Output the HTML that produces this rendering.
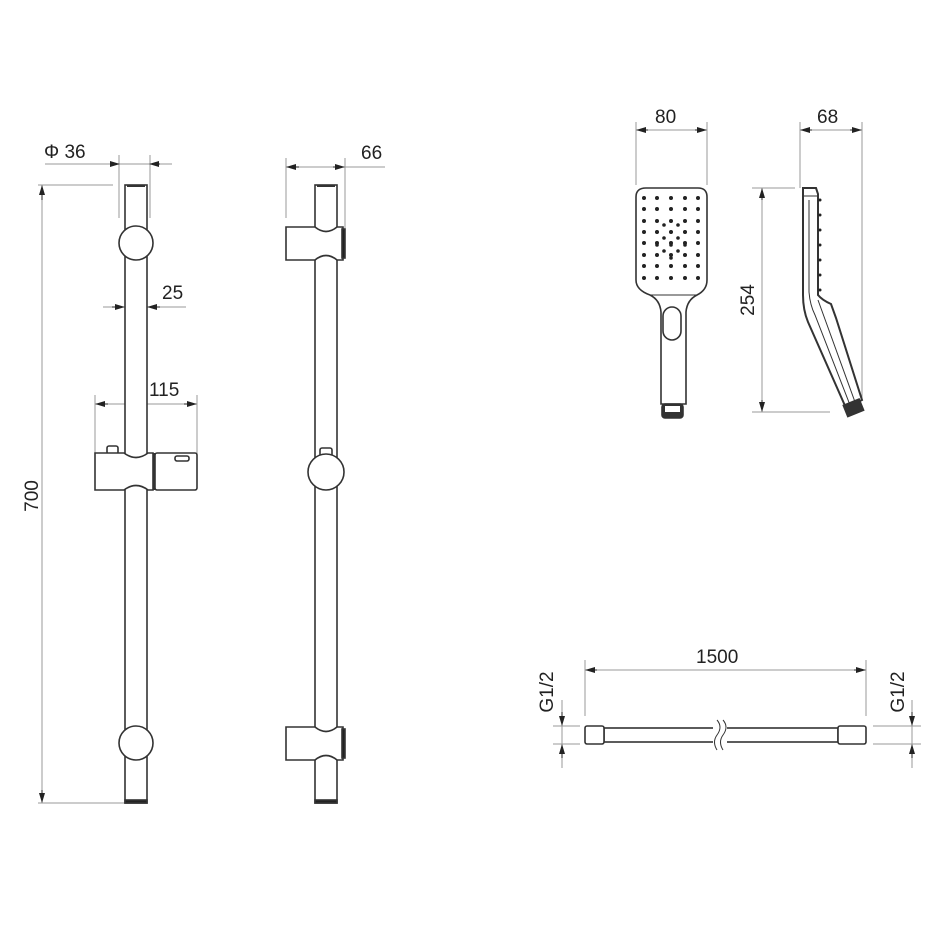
<!DOCTYPE html>
<html><head><style>body{margin:0;background:#fff}svg{display:block}text{font-family:"Liberation Sans",sans-serif;fill:#222}</style></head><body>
<svg width="950" height="950" viewBox="0 0 950 950" xmlns="http://www.w3.org/2000/svg">
<defs><marker id="a" markerWidth="10" markerHeight="6" refX="9" refY="3" orient="auto" markerUnits="userSpaceOnUse"><path d="M0,0 L10,3 L0,6Z" fill="#222"/></marker></defs>
<g stroke="#999" stroke-width="1" fill="none">
<line x1="45" y1="164" x2="172" y2="164"/><line x1="119" y1="155" x2="119" y2="218"/><line x1="150" y1="155" x2="150" y2="218"/>
<line x1="38" y1="185" x2="113" y2="185"/><line x1="38" y1="803" x2="125" y2="803"/><line x1="42" y1="185" x2="42" y2="803"/>
<line x1="103" y1="307" x2="186" y2="307"/>
<line x1="95" y1="404" x2="197" y2="404"/><line x1="95" y1="395" x2="95" y2="460"/><line x1="197" y1="395" x2="197" y2="460"/>
<line x1="286" y1="167" x2="385" y2="167"/><line x1="286" y1="158" x2="286" y2="218"/><line x1="345" y1="158" x2="345" y2="228"/>
<line x1="636" y1="130" x2="707" y2="130"/><line x1="636" y1="122" x2="636" y2="185"/><line x1="707" y1="122" x2="707" y2="185"/>
<line x1="800" y1="130" x2="862" y2="130"/><line x1="800" y1="122" x2="800" y2="188"/><line x1="862" y1="122" x2="862" y2="400"/>
<line x1="752" y1="188" x2="795" y2="188"/><line x1="752" y1="412" x2="830" y2="412"/><line x1="762" y1="188" x2="762" y2="412"/>
<line x1="585" y1="670" x2="866" y2="670"/><line x1="585" y1="660" x2="585" y2="716"/><line x1="866" y1="660" x2="866" y2="716"/>
<line x1="562" y1="700" x2="562" y2="768"/><line x1="553" y1="726" x2="580" y2="726"/><line x1="553" y1="744" x2="580" y2="744"/>
<line x1="912" y1="700" x2="912" y2="768"/><line x1="873" y1="726" x2="921" y2="726"/><line x1="873" y1="744" x2="921" y2="744"/>
</g>
<g stroke="#222" stroke-width="1" fill="none">
<line x1="112" y1="164" x2="119" y2="164" marker-end="url(#a)"/><line x1="160" y1="164" x2="150" y2="164" marker-end="url(#a)"/>
<line x1="42" y1="200" x2="42" y2="186" marker-end="url(#a)"/><line x1="42" y1="790" x2="42" y2="802" marker-end="url(#a)"/>
<line x1="112" y1="307" x2="124" y2="307" marker-end="url(#a)"/><line x1="160" y1="307" x2="148" y2="307" marker-end="url(#a)"/>
<line x1="108" y1="404" x2="96" y2="404" marker-end="url(#a)"/><line x1="184" y1="404" x2="196" y2="404" marker-end="url(#a)"/>
<line x1="299" y1="167" x2="287" y2="167" marker-end="url(#a)"/><line x1="333" y1="167" x2="344" y2="167" marker-end="url(#a)"/>
<line x1="648" y1="130" x2="637" y2="130" marker-end="url(#a)"/><line x1="695" y1="130" x2="706" y2="130" marker-end="url(#a)"/>
<line x1="812" y1="130" x2="801" y2="130" marker-end="url(#a)"/><line x1="850" y1="130" x2="861" y2="130" marker-end="url(#a)"/>
<line x1="762" y1="200" x2="762" y2="189" marker-end="url(#a)"/><line x1="762" y1="400" x2="762" y2="411" marker-end="url(#a)"/>
<line x1="597" y1="670" x2="586" y2="670" marker-end="url(#a)"/><line x1="854" y1="670" x2="865" y2="670" marker-end="url(#a)"/>
<line x1="562" y1="712" x2="562" y2="725" marker-end="url(#a)"/><line x1="562" y1="758" x2="562" y2="745" marker-end="url(#a)"/>
<line x1="912" y1="712" x2="912" y2="725" marker-end="url(#a)"/><line x1="912" y1="758" x2="912" y2="745" marker-end="url(#a)"/>
</g>
<g font-size="19">
<text x="44" y="158">Φ 36</text>
<text x="162" y="299">25</text>
<text x="149" y="396">115</text>
<text x="361" y="159">66</text>
<text x="655" y="123">80</text>
<text x="817" y="123">68</text>
<text x="696" y="663">1500</text>
<text transform="translate(38,496) rotate(-90)" text-anchor="middle">700</text>
<text transform="translate(754,300) rotate(-90)" text-anchor="middle">254</text>
<text transform="translate(553,692) rotate(-90)" text-anchor="middle">G1/2</text>
<text transform="translate(904,692) rotate(-90)" text-anchor="middle">G1/2</text>
</g>
<g stroke="#333" stroke-width="1.6" fill="#fff">
<rect x="125" y="185" width="22" height="618"/>
<rect x="125" y="800" width="22" height="3" fill="#222"/><line x1="127" y1="186" x2="145" y2="186" stroke-width="2"/>
<circle cx="136" cy="243" r="17"/><circle cx="136" cy="743" r="17"/>
<rect x="107" y="446" width="11" height="8" rx="2"/>
<path d="M95,453 H124 Q136,462 148,453 H153 V490 H148 Q136,481 124,490 H95 Z"/>
<rect x="155" y="453" width="42" height="37" rx="2"/>
<line x1="154" y1="453" x2="154" y2="490" stroke-width="2.5"/>
<rect x="175" y="456" width="14" height="5" rx="2"/>
<rect x="315" y="185" width="22" height="618"/>
<rect x="315" y="800" width="22" height="3" fill="#222"/><line x1="317" y1="186" x2="335" y2="186" stroke-width="2"/>
<path d="M286,227 H315 Q326,236 337,227 H343 V260 H337 Q326,251 315,260 H286 Z"/>
<rect x="342" y="229" width="3" height="29" fill="#222"/>
<path d="M286,727 H315 Q326,736 337,727 H343 V760 H337 Q326,751 315,760 H286 Z"/>
<rect x="342" y="729" width="3" height="29" fill="#222"/>
<rect x="320" y="448" width="12" height="8" rx="2"/>
<circle cx="326" cy="472" r="18"/>
<path d="M646,188 H698 Q707,188 707,197 V280 Q707,290 697,295 Q687,300 686,312 V404 H661 V312 Q660,300 650,295 Q636,290 636,280 V197 Q636,188 646,188 Z"/>
<rect x="663" y="307" width="18" height="33" rx="9"/>
<rect x="662" y="404" width="21" height="14" rx="3" fill="#333"/>
<rect x="665" y="406" width="15" height="6" fill="#fff" stroke="none"/>
<line x1="650" y1="295" x2="697" y2="295" stroke-width="1"/>
<path d="M803,188 H816 L818,194 V295 Q822,300 831,304 L836,318 L862,400 L846,408 L808,322 Q803,310 803,295 Z" stroke-width="2"/>
<path d="M809,200 V292 Q810,305 815,315 L850,405" fill="none" stroke-width="1"/>
<line x1="818" y1="300" x2="855" y2="402" stroke-width="1"/>
<line x1="803" y1="196" x2="817" y2="196" stroke-width="1"/>
<rect x="845" y="402" width="17" height="12" transform="rotate(-22 853 408)" fill="#333"/>
<rect x="604" y="728" width="234" height="14"/>
<rect x="585" y="726" width="19" height="18" rx="2"/>
<rect x="838" y="726" width="28" height="18" rx="2"/>
<rect x="713" y="722" width="14" height="26" fill="#fff" stroke="none"/>
<path d="M717,720 Q723,727 717,735 Q712,742 717,750 M723,720 Q729,727 723,735 Q718,742 723,750" fill="none" stroke-width="1"/>
</g>
<g fill="#222">
<g id="r">
<circle cx="644" cy="198" r="2"/><circle cx="657" cy="198" r="2"/><circle cx="671" cy="198" r="2"/><circle cx="685" cy="198" r="2"/><circle cx="698" cy="198" r="2"/>
</g>
<use href="#r" y="11"/><use href="#r" y="23"/><use href="#r" y="34"/><use href="#r" y="45"/><use href="#r" y="57"/><use href="#r" y="68"/><use href="#r" y="80"/>
<circle cx="664" cy="225" r="1.8"/><circle cx="678" cy="225" r="1.8"/><circle cx="671" cy="232" r="1.8"/><circle cx="664" cy="238" r="1.8"/><circle cx="678" cy="238" r="1.8"/><circle cx="671" cy="245" r="1.8"/><circle cx="664" cy="251" r="1.8"/><circle cx="678" cy="251" r="1.8"/><circle cx="671" cy="258" r="1.8"/><circle cx="657" cy="232" r="1.8"/><circle cx="685" cy="232" r="1.8"/><circle cx="657" cy="245" r="1.8"/><circle cx="685" cy="245" r="1.8"/>
<circle cx="820" cy="200" r="1.5"/><circle cx="820" cy="215" r="1.5"/><circle cx="820" cy="230" r="1.5"/><circle cx="820" cy="245" r="1.5"/><circle cx="820" cy="260" r="1.5"/><circle cx="820" cy="275" r="1.5"/><circle cx="820" cy="290" r="1.5"/>
</g>
</svg>
</body></html>
